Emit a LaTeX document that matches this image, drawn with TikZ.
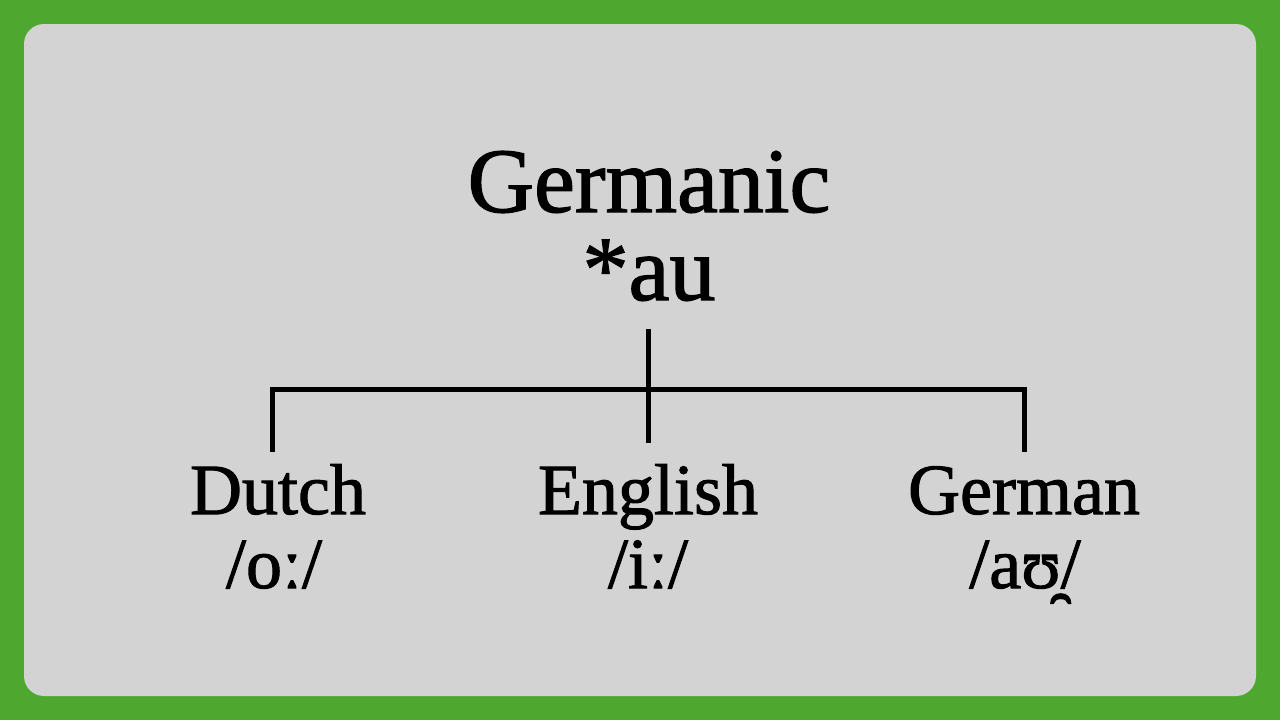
\documentclass[tikz,border=0pt]{standalone}
\usepackage{fontspec}
\setmainfont[FakeBold=1.4]{Liberation Serif}
\definecolor{framegreen}{RGB}{78,167,46}
\definecolor{panelgray}{RGB}{211,211,211}
\tikzset{
  big/.style={anchor=base, font=\fontsize{92}{100}\selectfont},
  lang/.style={anchor=base, font=\fontsize{72}{80}\selectfont},
  branch/.style={line width=5pt}
}
\begin{document}
\begin{tikzpicture}[x=1pt,y=-1pt]
\fill[framegreen] (0,0) rectangle (1280,720);
\fill[panelgray, rounded corners=20pt] (24,24) rectangle (1256,696);
%\draw[help lines] (0,0) grid[step=100] (1280,720);
\node[big] (germanic) at (649,212) {Germanic};
\node[big] (au) at (649,300) {*au};
\node[lang] (dutch) at (278,514) {Dutch};
\node[lang] (dutchipa) at (274,588) {/oː/};
\node[lang] (english) at (648,514) {English};
\node[lang] (englishipa) at (648,588) {/iː/};
\node[lang] (german) at (1024,514) {German};
\node[lang] (germanipa) at (1025,588) {/aʊ̯/};
\coordinate (stem) at (648,329);
\coordinate (bar) at (648,389);
\coordinate (ctr) at (648,443);
\coordinate (lft) at (272,452);
\coordinate (rgt) at (1024,452);
\draw[branch] (stem) -- (ctr);
\draw[branch] (lft) |- (bar) -| (rgt);
\end{tikzpicture}
\end{document}
